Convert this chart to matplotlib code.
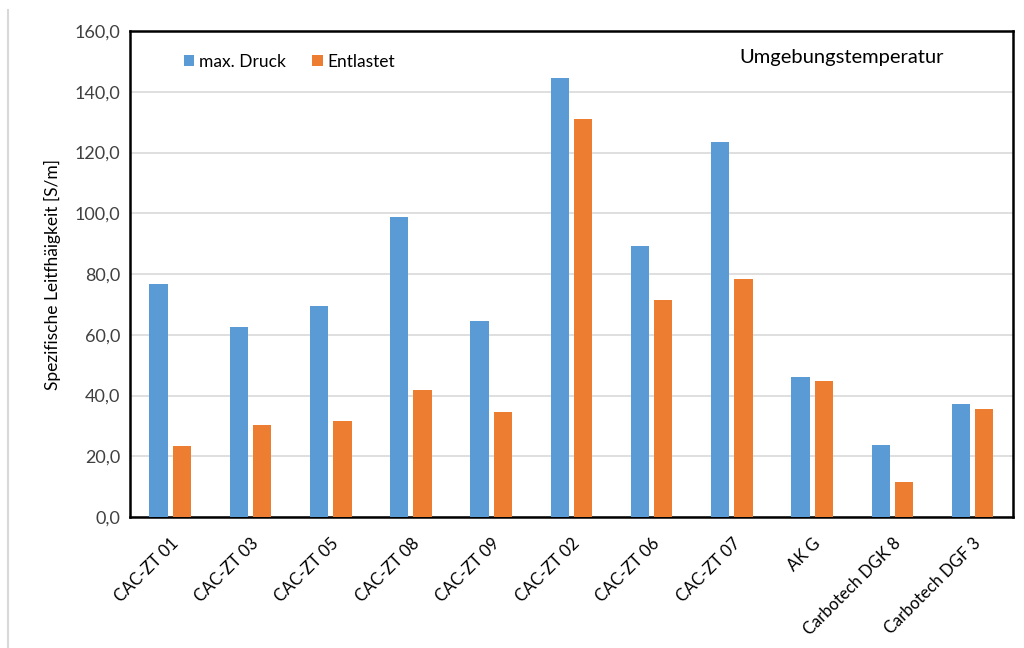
import matplotlib
matplotlib.use("Agg")
import matplotlib.pyplot as plt
from matplotlib.lines import Line2D
import numpy as np

plt.rcParams['font.family'] = ['Lato', 'DejaVu Sans']

# Proben und gemessene Leitfähigkeiten
proben = ["CAC-ZT 01", "CAC-ZT 03", "CAC-ZT 05", "CAC-ZT 08", "CAC-ZT 09",
          "CAC-ZT 02", "CAC-ZT 06", "CAC-ZT 07", "AK G",
          "Carbotech DGK 8", "Carbotech DGF 3"]
max_druck = [76.8, 62.6, 69.6, 98.8, 64.5, 144.6, 89.1, 123.5, 46.1, 23.6, 37.2]
entlastet = [23.3, 30.3, 31.6, 41.8, 34.5, 131.1, 71.6, 78.4, 44.8, 11.6, 35.7]
y_ticks = np.arange(0, 161, 20)

blau = "#5b9bd5"
orange = "#ed7d31"

fig = plt.figure(figsize=(10.24, 6.48), dpi=100)
ax = fig.add_axes([0.127, 0.202, 0.862, 0.750])

x = np.arange(len(proben))
breite = 0.23
ax.bar(x - 0.145, max_druck, breite, color=blau, label="max. Druck", zorder=3)
ax.bar(x + 0.145, entlastet, breite, color=orange, label="Entlastet", zorder=3)

ax.set_xlim(-0.5, len(proben) - 0.5)
ax.set_ylim(0, 160)
ax.set_yticks(y_ticks)
ax.set_yticklabels([f"{v:.1f}".replace(".", ",") for v in y_ticks],
                   fontsize=13, color="#404040")
ax.set_xticks(x)
ax.set_xticklabels(proben, rotation=45, ha="right", rotation_mode="anchor",
                   fontsize=12, color="#000000")
ax.tick_params(axis="both", length=0, pad=7)
ax.tick_params(axis="x", pad=13)

ax.grid(axis="y", color="#d9d9d9", linewidth=1.2, zorder=0)
for s in ax.spines.values():
    s.set_color("black")
    s.set_linewidth(1.8)

ax.set_ylabel("Spezifische Leitfhäigkeit [S/m]", fontsize=12.5, labelpad=10)

ax.legend(loc="upper left", bbox_to_anchor=(0.043, 0.985), ncol=2, frameon=False,
          fontsize=12.5, handlelength=0.6, handleheight=0.6, handletextpad=0.3,
          columnspacing=1.5)
ax.text(0.922, 0.945, "Umgebungstemperatur", transform=ax.transAxes,
        ha="right", va="center", fontsize=14.5)

# dünne graue Linie am linken Rand
fig.add_artist(Line2D([0.008, 0.008], [0.0, 0.985], color="#d9d9d9",
                      linewidth=1.5, transform=fig.transFigure))

fig.savefig("out.png", dpi=100)
